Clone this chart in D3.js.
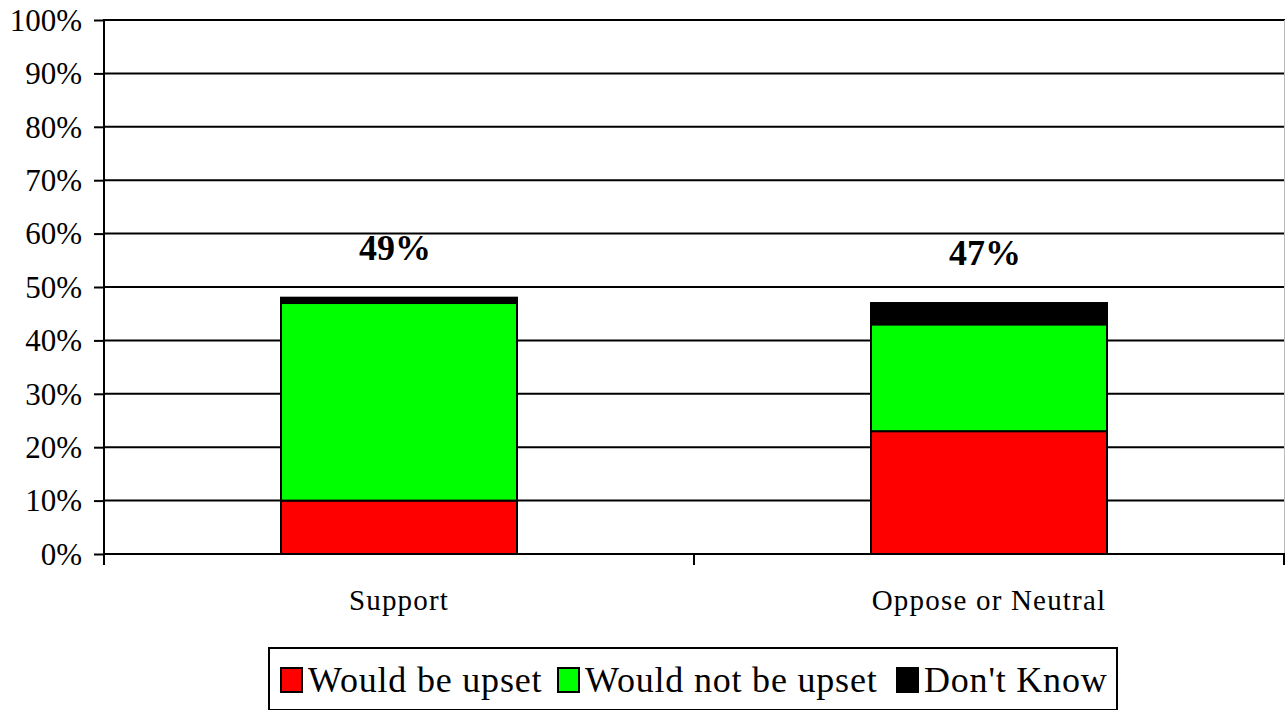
<!DOCTYPE html>
<html>
<meta charset="utf-8">
<head>
<script src="https://d3js.org/d3.v7.min.js"></script>
<style>
  body { margin: 0; background: #fff; }
  text { font-family: "Liberation Serif", "Times New Roman", serif; fill: #000; }
</style>
</head>
<body>
<div id="chart"></div>
<script>

// data (percent)
var categories = ["Support", "Oppose or Neutral"];
var seriesNames = ["Would be upset", "Would not be upset", "Don't Know"];
var seriesColors = ["#ff0000", "#00ff00", "#000000"];
var upset    = [10, 23];
var notUpset = [37, 20];
var dontKnow = [1, 4];
var totalLabels = ["49%", "47%"];
var yTicks = [0, 10, 20, 30, 40, 50, 60, 70, 80, 90, 100];

var W = 1285, H = 710;
var mLeft = 104, mRight = 1284, mTop = 20, mBottom = 554;

var svg = d3.select("#chart").append("svg")
    .attr("width", W).attr("height", H);

var x = d3.scaleBand()
    .domain(categories)
    .range([mLeft, mRight])
    .paddingInner(0.6)
    .paddingOuter(0.3);

var y = d3.scaleLinear().domain([0, 100]).range([mBottom, mTop]);

// gridlines
svg.selectAll("line.grid")
    .data(yTicks.filter(function(d){ return d > 0; }))
  .enter().append("line")
    .attr("class", "grid")
    .attr("x1", mLeft).attr("x2", W)
    .attr("y1", function(d){ return y(d); })
    .attr("y2", function(d){ return y(d); })
    .attr("stroke", "#000").attr("stroke-width", 2);

// right border of plot area
svg.append("line")
    .attr("x1", mRight + 0.5).attr("x2", mRight + 0.5)
    .attr("y1", mTop).attr("y2", mBottom)
    .attr("stroke", "#bbb").attr("stroke-width", 1);

// stacked bars
var rows = categories.map(function(c, i){
    return { cat: c, upset: upset[i], notUpset: notUpset[i], dk: dontKnow[i] };
});
var stack = d3.stack().keys(["upset", "notUpset", "dk"]);
var layers = stack(rows);

svg.selectAll("g.layer")
    .data(layers)
  .enter().append("g")
    .attr("class", "layer")
    .attr("fill", function(d, i){ return seriesColors[i]; })
  .selectAll("rect")
    .data(function(d){ return d; })
  .enter().append("rect")
    .attr("x", function(d){ return x(d.data.cat); })
    .attr("width", x.bandwidth())
    .attr("y", function(d){ return y(d[1]); })
    .attr("height", function(d){ return y(d[0]) - y(d[1]); })
    .attr("stroke", "#000").attr("stroke-width", 2);

// total labels above bars
svg.selectAll("text.total")
    .data(rows)
  .enter().append("text")
    .attr("class", "total")
    .attr("x", function(d){ return x(d.cat) + x.bandwidth() / 2 - 4; })
    .attr("y", function(d){ return y(d.upset + d.notUpset + d.dk) - 38; })
    .attr("text-anchor", "middle")
    .style("font-size", "36px").style("font-weight", "bold")
    .text(function(d, i){ return totalLabels[i]; });

// y axis
var yAxis = d3.axisLeft(y)
    .tickValues(yTicks)
    .tickSize(10)
    .tickPadding(12)
    .tickFormat(function(d){ return d + "%"; });

var gy = svg.append("g")
    .attr("transform", "translate(" + mLeft + ",0)")
    .call(yAxis);
gy.select(".domain").remove();
gy.selectAll(".tick line").attr("stroke", "#000").attr("stroke-width", 2);
gy.selectAll(".tick text")
    .style("font-size", "31px")
    .attr("font-family", null)
    .attr("dy", "0.33em");
svg.append("line")
    .attr("x1", mLeft).attr("x2", mLeft)
    .attr("y1", mTop - 1).attr("y2", mBottom + 11)
    .attr("stroke", "#000").attr("stroke-width", 2);

// x axis
svg.append("line")
    .attr("x1", mLeft).attr("x2", W)
    .attr("y1", mBottom).attr("y2", mBottom)
    .attr("stroke", "#000").attr("stroke-width", 2);
var step = x.step();
svg.selectAll("line.xtick")
    .data(d3.range(categories.length + 1))
  .enter().append("line")
    .attr("class", "xtick")
    .attr("x1", function(i){ return Math.min(mLeft + i * step, W - 1); })
    .attr("x2", function(i){ return Math.min(mLeft + i * step, W - 1); })
    .attr("y1", mBottom).attr("y2", mBottom + 11)
    .attr("stroke", "#000").attr("stroke-width", 2);

svg.selectAll("text.cat")
    .data(categories)
  .enter().append("text")
    .attr("class", "cat")
    .attr("x", function(d){ return x(d) + x.bandwidth() / 2; })
    .attr("y", 610)
    .attr("text-anchor", "middle")
    .style("font-size", "29px")
    .style("letter-spacing", "1.2px")
    .text(function(d){ return d; });

// legend
var legend = svg.append("g");
legend.append("rect")
    .attr("x", 269).attr("y", 648)
    .attr("width", 848).attr("height", 62)
    .attr("fill", "#fff").attr("stroke", "#000").attr("stroke-width", 2);

var itemX = [281, 558, 897];
var items = legend.selectAll("g.item")
    .data(seriesNames)
  .enter().append("g")
    .attr("class", "item")
    .attr("transform", function(d, i){ return "translate(" + itemX[i] + ",0)"; });
items.append("rect")
    .attr("x", 0).attr("y", 668)
    .attr("width", 21).attr("height", 24)
    .attr("fill", function(d, i){ return seriesColors[i]; })
    .attr("stroke", "#000").attr("stroke-width", 2);
items.append("text")
    .attr("x", 27).attr("y", 692)
    .style("font-size", "36px")
    .style("letter-spacing", "0.8px")
    .text(function(d){ return d; });

</script>
</body>
</html>
